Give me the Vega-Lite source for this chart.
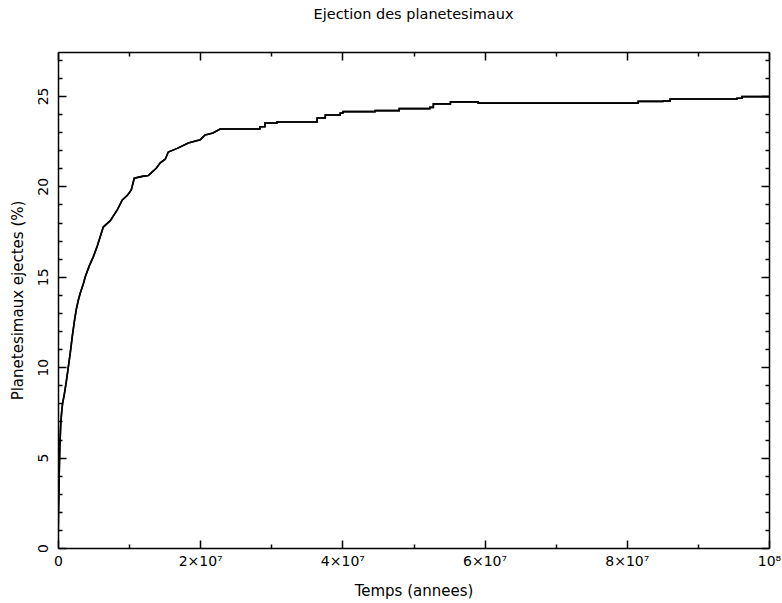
{
  "$schema": "https://vega.github.io/schema/vega-lite/v6.json",
  "autosize": "none",
  "width": 711,
  "height": 496,
  "padding": {"left": 58, "top": 52, "right": 13, "bottom": 55},
  "background": "white",
  "title": {"text": "Ejection des planetesimaux", "font": "DejaVu Sans", "fontSize": 14.5, "fontWeight": "normal", "color": "black", "offset": 29, "anchor": "middle"},
  "config": {"view": {"stroke": null}, "axis": {"grid": false, "domainColor": "black", "tickColor": "black", "labelColor": "black", "titleColor": "black", "labelFont": "DejaVu Sans", "titleFont": "DejaVu Sans", "labelFontSize": 14, "titleFontSize": 15, "titleFontWeight": "normal", "domainWidth": 1.5, "tickWidth": 1.5}},
  "data": {"values": [
    {"t": 0, "p": 0},
    {"t": 70000, "p": 2.1},
    {"t": 155000, "p": 3.8},
    {"t": 250000, "p": 5.5},
    {"t": 390000, "p": 6.9},
    {"t": 530000, "p": 7.6},
    {"t": 650000, "p": 8.0},
    {"t": 886000, "p": 8.5},
    {"t": 1167000, "p": 9.2},
    {"t": 1448000, "p": 10.0},
    {"t": 1729000, "p": 10.8},
    {"t": 2010000, "p": 11.7},
    {"t": 2292000, "p": 12.5},
    {"t": 2573000, "p": 13.2},
    {"t": 2854000, "p": 13.7},
    {"t": 3135000, "p": 14.1},
    {"t": 3557000, "p": 14.6},
    {"t": 3838000, "p": 15.0},
    {"t": 4401000, "p": 15.6},
    {"t": 4963000, "p": 16.1},
    {"t": 5525000, "p": 16.7},
    {"t": 6369000, "p": 17.75},
    {"t": 7353000, "p": 18.1},
    {"t": 8337000, "p": 18.7},
    {"t": 9040000, "p": 19.25},
    {"t": 9743000, "p": 19.5},
    {"t": 10305000, "p": 19.8},
    {"t": 10727000, "p": 20.45},
    {"t": 11850000, "p": 20.55},
    {"t": 12700000, "p": 20.6},
    {"t": 13260000, "p": 20.8},
    {"t": 13820000, "p": 21.0},
    {"t": 14380000, "p": 21.3},
    {"t": 15080000, "p": 21.5},
    {"t": 15510000, "p": 21.9},
    {"t": 16770000, "p": 22.1},
    {"t": 18320000, "p": 22.4},
    {"t": 20000000, "p": 22.57},
    {"t": 20700000, "p": 22.84},
    {"t": 21800000, "p": 22.95},
    {"t": 22800000, "p": 23.17},
    {"t": 28390000, "p": 23.17},
    {"t": 28400000, "p": 23.3},
    {"t": 29090000, "p": 23.3},
    {"t": 29100000, "p": 23.5},
    {"t": 30790000, "p": 23.5},
    {"t": 30800000, "p": 23.56},
    {"t": 36440000, "p": 23.56},
    {"t": 36450000, "p": 23.78},
    {"t": 37590000, "p": 23.78},
    {"t": 37600000, "p": 23.95},
    {"t": 39690000, "p": 23.95},
    {"t": 39700000, "p": 24.06},
    {"t": 40090000, "p": 24.06},
    {"t": 40100000, "p": 24.13},
    {"t": 44590000, "p": 24.13},
    {"t": 44600000, "p": 24.19},
    {"t": 47990000, "p": 24.19},
    {"t": 48000000, "p": 24.3},
    {"t": 52290000, "p": 24.3},
    {"t": 52300000, "p": 24.37},
    {"t": 52790000, "p": 24.37},
    {"t": 52800000, "p": 24.56},
    {"t": 55190000, "p": 24.56},
    {"t": 55200000, "p": 24.67},
    {"t": 59090000, "p": 24.67},
    {"t": 59100000, "p": 24.6},
    {"t": 81590000, "p": 24.6},
    {"t": 81600000, "p": 24.7},
    {"t": 85090000, "p": 24.7},
    {"t": 85100000, "p": 24.72},
    {"t": 86090000, "p": 24.72},
    {"t": 86100000, "p": 24.83},
    {"t": 95490000, "p": 24.83},
    {"t": 95500000, "p": 24.87},
    {"t": 96190000, "p": 24.87},
    {"t": 96200000, "p": 24.96},
    {"t": 100000000, "p": 24.96}
  ]},
  "layer": [
    {
      "mark": {"type": "line", "interpolate": "linear", "color": "black", "strokeWidth": 1.6, "clip": true},
      "encoding": {
        "x": {"field": "t", "type": "quantitative", "scale": {"domain": [0, 100000000], "nice": false, "zero": false},
          "axis": {"orient": "bottom", "title": "Temps (annees)", "titlePadding": 11,
            "values": [0, 10000000, 20000000, 30000000, 40000000, 50000000, 60000000, 70000000, 80000000, 90000000, 100000000],
            "labelExpr": "datum.value % 20000000 === 0 ? (datum.value === 0 ? '0' : (datum.value === 100000000 ? '10⁸' : (datum.value / 10000000) + '×10⁷')) : ''",
            "tickSize": {"condition": {"test": "datum.value % 20000000 === 0", "value": -8}, "value": -4},
            "labelPadding": 14, "labelFlush": false, "labelOverlap": false}},
        "y": {"field": "p", "type": "quantitative", "scale": {"domain": [0, 27.43], "nice": false, "zero": false},
          "axis": {"orient": "left", "title": "Planetesimaux ejectes (%)", "titlePadding": 7,
            "values": [0,1,2,3,4,5,6,7,8,9,10,11,12,13,14,15,16,17,18,19,20,21,22,23,24,25,26,27],
            "labelExpr": "datum.value % 5 === 0 ? datum.label : ''",
            "tickSize": {"condition": {"test": "datum.value % 5 === 0", "value": -8}, "value": -4},
            "labelAngle": -90, "labelAlign": "center", "labelBaseline": "bottom", "labelPadding": 16, "labelOverlap": false, "labelFlush": false}}
      }
    },
    {
      "mark": {"type": "line", "interpolate": "linear", "color": "black", "strokeWidth": 1.6, "clip": true},
      "encoding": {
        "x": {"field": "t", "type": "quantitative", "scale": {"domain": [0, 100000000], "nice": false, "zero": false},
          "axis": {"orient": "top", "title": null, "labels": false,
            "values": [0, 10000000, 20000000, 30000000, 40000000, 50000000, 60000000, 70000000, 80000000, 90000000, 100000000],
            "tickSize": {"condition": {"test": "datum.value % 20000000 === 0", "value": -8}, "value": -4}}},
        "y": {"field": "p", "type": "quantitative", "scale": {"domain": [0, 27.43], "nice": false, "zero": false},
          "axis": {"orient": "right", "title": null, "labels": false,
            "values": [0,1,2,3,4,5,6,7,8,9,10,11,12,13,14,15,16,17,18,19,20,21,22,23,24,25,26,27],
            "tickSize": {"condition": {"test": "datum.value % 5 === 0", "value": -8}, "value": -4}}}
      }
    }
  ],
  "resolve": {"scale": {"x": "independent", "y": "independent"}}
}
